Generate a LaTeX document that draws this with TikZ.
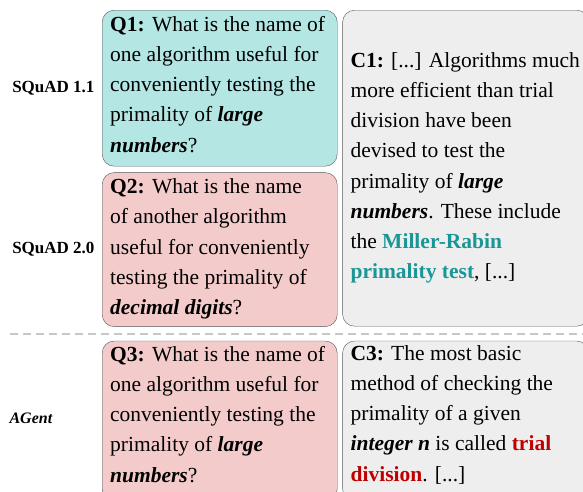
\documentclass[tikz,border=0pt]{standalone}
\usepackage{fontspec}
\setmainfont{Liberation Serif}
\usetikzlibrary{positioning}
\definecolor{qcyan}{RGB}{180,230,228}
\definecolor{qpink}{RGB}{244,203,203}
\definecolor{cgray}{RGB}{238,238,238}
\definecolor{boxline}{RGB}{85,85,85}
\definecolor{ansteal}{RGB}{26,150,150}
\definecolor{ansred}{RGB}{192,0,0}
% lines of a box, left aligned, first baseline on top
\newcommand{\boxlines}[2]{\makebox[#1][l]{\begin{tabular}[t]{@{}l@{}}#2\end{tabular}}}
\tikzset{
    %Define the boxes
    qbox/.style={
      rectangle,
      rounded corners=12pt,
      draw=boxline, thin,
      inner xsep=8pt, inner ysep=0pt,
      text height=21pt, text depth=135pt,
      font=\fontsize{21.5}{30.25}\selectfont},
    cbox/.style={
      qbox,
      fill=cgray},
    lbl/.style={
      font=\bfseries\fontsize{17}{20}\selectfont},
    sep/.style={
      draw=black!22, line width=1.3pt,
      dash pattern=on 8pt off 5pt},
}

\begin{document}
\begin{tikzpicture}[x=1pt, y=1pt]
    \useasboundingbox (0,0) rectangle (583,-491);
    \clip (0,0) rectangle (583,-491);
    \node (q1) [qbox, fill=qcyan, anchor=north west] at (102,-10)
          {\boxlines{219pt}{\textbf{Q1:} What is the name of\\
           one algorithm useful for\\
           conveniently testing the\\
           primality of \textbf{\textit{large}}\\
           \textbf{\textit{numbers}}?}};
    \node (q2) [qbox, fill=qpink, text height=21pt, text depth=133pt] [below=6pt of q1]
          {\boxlines{219pt}{\textbf{Q2:} What is the name\\
           of another algorithm\\
           useful for conveniently\\
           testing the primality of\\
           \textbf{\textit{decimal digits}}?}};
    \node (c1) [cbox, text height=57pt, text depth=259pt] [below right=0pt and 5pt of q1.north east]
          {\boxlines{230pt}{\textbf{C1:} [...] Algorithms much\\
           more efficient than trial\\
           division have been\\
           devised to test the\\
           primality of \textbf{\textit{large}}\\
           \textbf{\textit{numbers}}. These include\\
           the \textcolor{ansteal}{\textbf{Miller-Rabin}}\\
           \textcolor{ansteal}{\textbf{primality test}}, [...]}};
    \node (squad11) [lbl] [left=4pt of q1]
          {SQuAD 1.1};
    \node (squad20) [lbl] [left=4pt of q2]
          {SQuAD 2.0};
    % separator
    \coordinate (sepl) at (10,-334);
    \coordinate (sepr) at (583,-334);
    \draw [sep] (sepl) -- (sepr);
    \node (q3) [qbox, fill=qpink, text height=20pt, text depth=140pt] [below=14pt of q2]
          {\boxlines{219pt}{\textbf{Q3:} What is the name of\\
           one algorithm useful for\\
           conveniently testing the\\
           primality of \textbf{\textit{large}}\\
           \textbf{\textit{numbers}}?}};
    \node (c3) [cbox, text height=19pt, text depth=141pt] [below right=0pt and 5pt of q3.north east]
          {\boxlines{230pt}{\textbf{C3:} The most basic\\
           method of checking the\\
           primality of a given\\
           \textbf{\textit{integer n}} is called \textcolor{ansred}{\textbf{trial}}\\
           \textcolor{ansred}{\textbf{division}}. [...]}};
    \node (agent) [lbl, font=\bfseries\itshape\fontsize{16}{19}\selectfont, anchor=west]
          at (6,-418) {AGent};
\end{tikzpicture}
\end{document}
